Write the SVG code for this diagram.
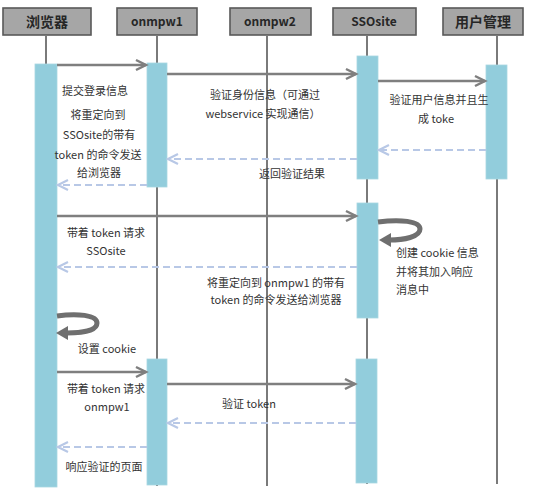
<svg xmlns="http://www.w3.org/2000/svg" width="536" height="500" viewBox="0 0 536 500">
<style>
.hd{fill:#a6a6a6;stroke:#595959;stroke-width:1.6}
.ht{font-family:"Noto Sans CJK SC","Noto Sans",sans-serif;font-weight:bold;fill:#262626;text-anchor:middle}
.ll{stroke:#595959;stroke-width:1.6;fill:none}
.bar{fill:#92cddc;stroke:#a9d6e2;stroke-width:0.8}
.sol{stroke:#7f7f7f;stroke-width:2.5;fill:none;marker-end:url(#ah)}
.das{stroke:#b8c8e6;stroke-width:2.2;fill:none;stroke-dasharray:7 4;marker-end:url(#ahd)}
.t{font-family:"Noto Sans CJK SC","Noto Sans",sans-serif;font-size:11px;fill:#333;text-anchor:middle}
.tl{text-anchor:start}
.loop{stroke:#6f6f6f;stroke-width:5;fill:none}
</style>
<defs>
<marker id="ah" markerUnits="userSpaceOnUse" markerWidth="14" markerHeight="14" refX="11" refY="6" orient="auto" viewBox="0 0 14 12">
<path d="M1,1 L11,6 L1,11" fill="none" stroke="#7f7f7f" stroke-width="2.5"/>
</marker>
<marker id="ahd" markerUnits="userSpaceOnUse" markerWidth="14" markerHeight="14" refX="11" refY="6" orient="auto" viewBox="0 0 14 12">
<path d="M1,1 L11,6 L1,11" fill="none" stroke="#b8c8e6" stroke-width="2.2"/>
</marker>
</defs>
<rect width="536" height="500" fill="#ffffff"/>

<g id="lifelines">
<line class="ll" x1="46" y1="36" x2="46" y2="64"/>
<line class="ll" x1="157" y1="36" x2="157" y2="486"/>
<line class="ll" x1="267" y1="36" x2="267" y2="486"/>
<line class="ll" x1="367" y1="36" x2="367" y2="484"/>
<line class="ll" x1="497" y1="36" x2="497" y2="484"/>
</g>

<g id="node-browser">
<rect class="hd" x="3" y="8" width="88" height="27"/>
<text class="ht" x="47" y="27" font-size="14">浏览器</text>
<rect class="bar" x="35" y="64" width="22" height="423"/>
</g>
<g id="node-onmpw1">
<rect class="hd" x="117" y="8" width="80" height="27"/>
<text class="ht" x="157" y="26" font-size="12">onmpw1</text>
<rect class="bar" x="147" y="63" width="20" height="124"/>
<rect class="bar" x="147" y="359" width="20" height="126"/>
</g>
<g id="node-onmpw2">
<rect class="hd" x="230" y="8" width="81" height="27"/>
<text class="ht" x="270" y="26" font-size="12">onmpw2</text>
</g>
<g id="node-ssosite">
<rect class="hd" x="333" y="8" width="83" height="27"/>
<text class="ht" x="374" y="26" font-size="12">SSOsite</text>
<rect class="bar" x="357" y="56" width="21" height="123"/>
<rect class="bar" x="357" y="203" width="21" height="115"/>
<rect class="bar" x="356" y="359" width="21" height="124"/>
</g>
<g id="node-usermgmt">
<rect class="hd" x="443" y="8" width="80" height="27"/>
<text class="ht" x="483" y="27" font-size="14">用户管理</text>
<rect class="bar" x="486" y="65" width="21" height="114"/>
</g>

<g id="connectors">
<line class="sol" x1="57" y1="65" x2="146" y2="65"/>
<line class="sol" x1="167" y1="74" x2="356" y2="74"/>
<line class="sol" x1="378" y1="81" x2="485" y2="81"/>
<line class="das" x1="486" y1="150" x2="379" y2="150"/>
<line class="das" x1="357" y1="159" x2="168" y2="159"/>
<line class="das" x1="147" y1="185" x2="58" y2="185"/>
<line class="sol" x1="57" y1="216" x2="356" y2="216"/>
<line class="das" x1="357" y1="267" x2="58" y2="267"/>
<line class="sol" x1="57" y1="372" x2="146" y2="372"/>
<line class="sol" x1="167" y1="384" x2="355" y2="384"/>
<line class="das" x1="356" y1="423" x2="168" y2="423"/>
<line class="das" x1="147" y1="447" x2="58" y2="447"/>
<path class="loop" d="M378,222 C400,219 420,221 420,229 C420,237 404,240 389,240"/>
<polygon points="379,240 391,233 391,247" fill="#6f6f6f"/>
<path class="loop" d="M57,316 C77,313 97,315 97,323 C97,331 81,333 67,333"/>
<polygon points="56,333 68,326 68,340" fill="#6f6f6f"/>
</g>

<g id="labels">
<text class="t" x="95" y="95">提交登录信息</text>
<text class="t" x="98" y="119">将重定向到</text>
<text class="t" x="99" y="139">SSOsite的带有</text>
<text class="t" x="98" y="159">token 的命令发送</text>
<text class="t" x="99" y="177">给浏览器</text>
<text class="t" x="265" y="99">验证身份信息（可通过</text>
<text class="t" x="263" y="118">webservice 实现通信）</text>
<text class="t" x="439" y="104">验证用户信息并且生</text>
<text class="t" x="436" y="123">成 toke</text>
<text class="t" x="292" y="178">返回验证结果</text>
<text class="t" x="106" y="237">带着 token 请求</text>
<text class="t" x="106" y="255">SSOsite</text>
<text class="t" x="276" y="287">将重定向到 onmpw1 的带有</text>
<text class="t" x="276" y="304">token 的命令发送给浏览器</text>
<text class="t tl" x="396" y="257">创建 cookie 信息</text>
<text class="t tl" x="396" y="276">并将其加入响应</text>
<text class="t tl" x="396" y="294">消息中</text>
<text class="t" x="107" y="353">设置 cookie</text>
<text class="t" x="106" y="393">带着 token 请求</text>
<text class="t" x="107" y="411">onmpw1</text>
<text class="t" x="249" y="408">验证 token</text>
<text class="t" x="104" y="471">响应验证的页面</text>
</g>
</svg>
